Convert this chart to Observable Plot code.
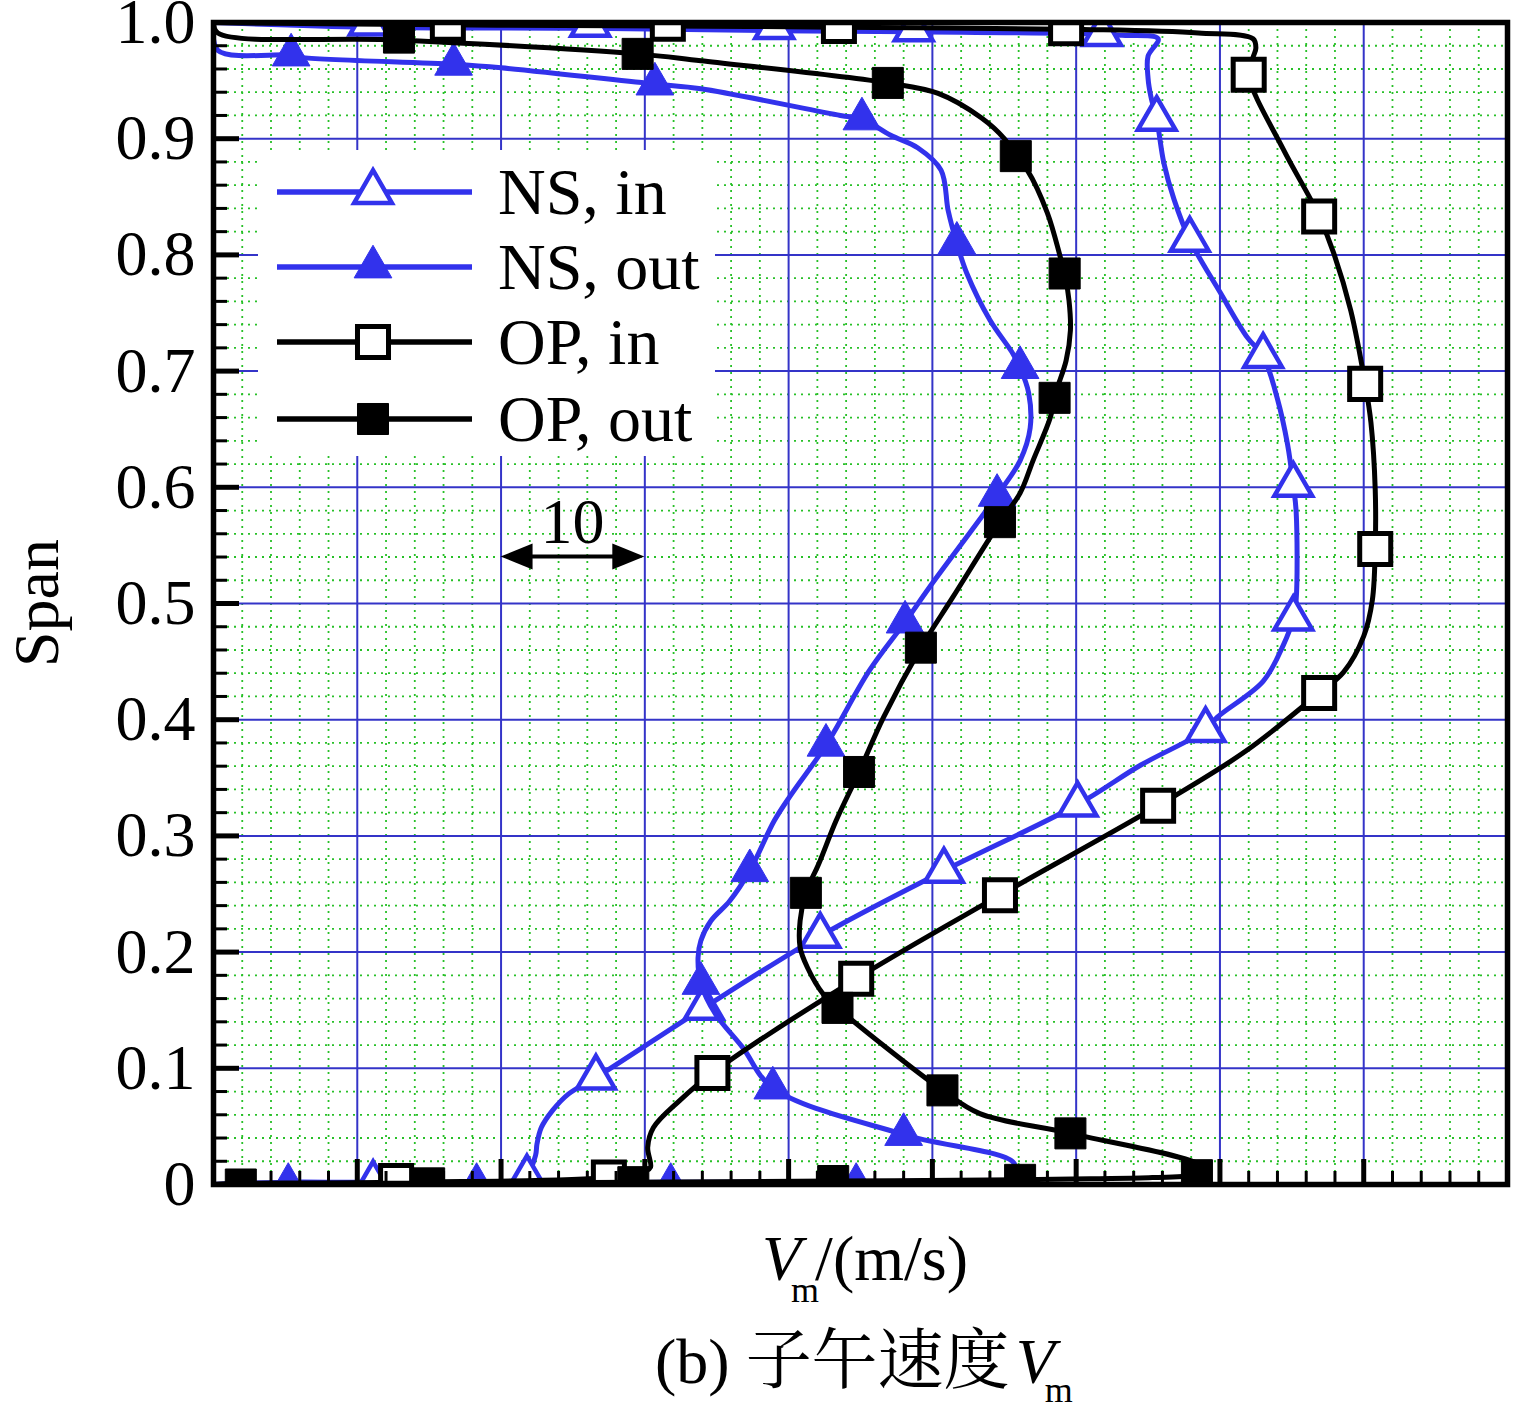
<!DOCTYPE html>
<html>
<head>
<meta charset="utf-8">
<script src="https://cdn.jsdelivr.net/npm/d3@7"></script>
<script src="https://cdn.jsdelivr.net/npm/@observablehq/plot@0.6"></script>
<style>
  html, body { margin: 0; padding: 0; background: #fff; }
  #chart svg { display: block; }
</style>
</head>
<body>
<div id="chart"></div>
<script>
// ---------------- data (V_m in m/s, relative scale; span 0..1) ----------------
const yTicks = [0, 0.1, 0.2, 0.3, 0.4, 0.5, 0.6, 0.7, 0.8, 0.9, 1.0];
const xMajorTicks = [0, 10, 20, 30, 40, 50, 60, 70, 80, 90];
const seriesNames = ["NS, in", "NS, out", "OP, in", "OP, out"];

// NS, in  (line)
const nsInV    = [0, 5.4, 10.1, 11.1, 11.9, 21.2, 21.8, 22.4, 22.5, 22.8, 23.6, 24.7, 26.6, 34.1, 42.2, 50.8, 60.1, 64.5, 69.0, 69.8, 73.0, 74.4, 75.1, 75.3, 75.3, 75.1, 74.7, 74.0, 73.0, 71.9, 70.0, 67.9, 66.8, 66.1, 65.6, 65.2, 65.0, 65.0, 65.7, 63.2, 61.8, 48.7, 39.0, 26.2, 10.8, 0];
const nsInSpan = [0, 0.002, 0.002, 0.003, 0.003, 0.003, 0.008, 0.025, 0.035, 0.049, 0.064, 0.078, 0.092, 0.152, 0.214, 0.270, 0.327, 0.361, 0.391, 0.402, 0.433, 0.464, 0.487, 0.503, 0.579, 0.602, 0.637, 0.676, 0.713, 0.729, 0.768, 0.813, 0.848, 0.879, 0.917, 0.936, 0.952, 0.971, 0.986, 0.989, 0.990, 0.992, 0.993, 0.995, 0.996, 1.0];
// NS, in  (markers)
const nsInMarkV    = [11.1, 21.8, 26.6, 34.1, 42.2, 50.8, 60.1, 69.0, 75.1, 75.1, 73.0, 67.9, 65.6, 61.8, 48.7, 39.0, 26.2, 10.8];
const nsInMarkSpan = [0.001, 0.006, 0.092, 0.152, 0.214, 0.270, 0.327, 0.391, 0.487, 0.602, 0.713, 0.813, 0.917, 0.990, 0.994, 0.996, 0.998, 0.999];

// NS, out (line)
const nsOutV    = [0, 5.2, 18.3, 31.8, 44.7, 50.4, 55.3, 55.7, 48.0, 38.9, 36.8, 34.9, 33.9, 33.7, 33.9, 34.6, 35.9, 37.3, 39.0, 40.2, 42.6, 45.6, 48.1, 49.8, 54.5, 56.1, 56.8, 56.7, 56.1, 55.6, 54.0, 52.4, 51.7, 51.1, 50.6, 49.0, 47.1, 45.1, 43.6, 33.9, 30.7, 20.0, 16.7, 6.1, 5.4, 0.3, 0];
const nsOutSpan = [0, 0.001, 0.001, 0.002, 0.002, 0.003, 0.004, 0.018, 0.043, 0.083, 0.118, 0.147, 0.173, 0.195, 0.210, 0.227, 0.244, 0.270, 0.313, 0.336, 0.378, 0.442, 0.484, 0.514, 0.593, 0.623, 0.651, 0.681, 0.703, 0.715, 0.744, 0.784, 0.810, 0.838, 0.873, 0.892, 0.903, 0.917, 0.920, 0.943, 0.947, 0.961, 0.964, 0.970, 0.972, 0.976, 1.0];
// NS, out (markers)
const nsOutMarkV    = [5.2, 18.3, 31.8, 44.7, 48.0, 38.9, 33.9, 37.3, 42.6, 48.1, 54.5, 56.1, 51.7, 45.1, 30.7, 16.7, 5.4];
const nsOutMarkSpan = [0, 0, 0, 0, 0.043, 0.083, 0.173, 0.270, 0.378, 0.484, 0.593, 0.703, 0.810, 0.917, 0.947, 0.964, 0.972];

// OP, in  (line)
const opInV    = [0, 12.7, 27.5, 30.1, 30.4, 30.2, 30.6, 32.4, 34.7, 44.7, 54.7, 65.7, 71.8, 76.9, 78.6, 80.0, 80.6, 80.8, 80.8, 80.5, 80.1, 79.1, 77.9, 76.9, 76.3, 74.4, 72.0, 72.3, 72.5, 72.3, 68.5, 60.5, 43.5, 31.6, 16.3, 0];
const opInSpan = [0, 0.002, 0.006, 0.012, 0.015, 0.032, 0.049, 0.072, 0.096, 0.177, 0.249, 0.326, 0.373, 0.423, 0.441, 0.472, 0.503, 0.547, 0.598, 0.656, 0.689, 0.752, 0.802, 0.833, 0.848, 0.891, 0.955, 0.970, 0.978, 0.986, 0.991, 0.994, 0.996, 0.997, 0.998, 1.0];
// OP, in  (markers)
const opInMarkV    = [12.7, 27.5, 34.7, 44.7, 54.7, 65.7, 76.9, 80.8, 80.1, 76.9, 72.0, 59.3, 43.5, 31.6, 16.3];
const opInMarkSpan = [0.003, 0.006, 0.096, 0.177, 0.249, 0.326, 0.423, 0.547, 0.689, 0.833, 0.955, 0.995, 0.997, 0.999, 0.999];

// OP, out (line)
const opOutV    = [0, 1.9, 15.0, 29.2, 43.1, 56.1, 61.0, 65.3, 68.4, 68.8, 59.6, 53.3, 50.7, 43.4, 42.4, 41.3, 40.8, 40.8, 41.2, 42.1, 43.3, 44.9, 46.6, 49.2, 51.4, 54.7, 56.1, 57.0, 58.2, 58.5, 58.7, 59.3, 59.6, 59.5, 59.2, 58.9, 58.0, 56.6, 55.8, 55.0, 53.4, 50.4, 46.9, 33.9, 29.5, 12.9, 0.3, 0];
const opOutSpan = [0, 0.001, 0.001, 0.002, 0.003, 0.004, 0.005, 0.006, 0.009, 0.015, 0.044, 0.061, 0.081, 0.152, 0.164, 0.187, 0.204, 0.227, 0.251, 0.276, 0.313, 0.355, 0.402, 0.462, 0.505, 0.570, 0.595, 0.623, 0.660, 0.677, 0.686, 0.709, 0.735, 0.761, 0.784, 0.798, 0.836, 0.873, 0.885, 0.900, 0.918, 0.939, 0.948, 0.967, 0.973, 0.985, 0.991, 1.0];
// OP, out (markers)
const opOutMarkV    = [1.9, 15.0, 29.2, 43.1, 56.1, 68.4, 59.6, 50.7, 43.4, 41.2, 44.9, 49.2, 54.7, 58.5, 59.2, 55.8, 46.9, 29.5, 12.9];
const opOutMarkSpan = [0, 0.001, 0.002, 0.003, 0.004, 0.008, 0.044, 0.081, 0.152, 0.251, 0.355, 0.462, 0.570, 0.677, 0.784, 0.885, 0.948, 0.973, 0.987];

// scale bar annotation ("10" m/s)
const scaleBarFrom = 20, scaleBarTo = 30, scaleBarSpan = 0.54, scaleBarLabel = "10";

// ---------------- layout / style ----------------
const W = 1524, H = 1405;
const mL = 213, mR = 17, mT = 22, mB = 221;
const plotW = W - mL - mR, plotH = H - mT - mB;
const BLUE = "#3232ec";
const GRID_BLUE = "#3434c8";
const GREEN = "#28c028";
const SERIF = "'Liberation Serif', 'Times New Roman', serif";

const rows = (v, s) => v.map((d, i) => ({v: d, span: s[i]}));
const nsIn = rows(nsInV, nsInSpan), nsInM = rows(nsInMarkV, nsInMarkSpan);
const nsOut = rows(nsOutV, nsOutSpan), nsOutM = rows(nsOutMarkV, nsOutMarkSpan);
const opIn = rows(opInV, opInSpan), opInM = rows(opInMarkV, opInMarkSpan);
const opOut = rows(opOutV, opOutSpan), opOutM = rows(opOutMarkV, opOutMarkSpan);

const xMinor = d3.range(0, 91, 2).filter(d => d % 10 !== 0);
const yMinor = d3.range(0, 51, 1).map(d => +(d * 0.02).toFixed(2)).filter(d => Math.round(d * 100) % 10 !== 0);
const xMajorGrid = xMajorTicks.filter(d => d > 0 && d < 90);
const yMajorGrid = yTicks.filter(d => d > 0 && d < 1);

const lineOpts = (color) => ({x: "v", y: "span", stroke: color, strokeWidth: 5, curve: "catmull-rom", clip: true, strokeLinejoin: "round"});
const TRI_R = 14, SQ_R = 17.5;

const plot = Plot.plot({
  width: W, height: H,
  marginLeft: mL, marginRight: mR, marginTop: mT, marginBottom: mB,
  style: {background: "white", fontFamily: SERIF, fontSize: "64px", color: "black", overflow: "visible"},
  x: {domain: [0, 90], axis: null},
  y: {domain: [0, 1], ticks: yTicks, tickFormat: d => d === 0 ? "0" : d.toFixed(1), tickSize: 0, tickPadding: 18, label: null},
  marks: [
    Plot.ruleX(xMinor, {stroke: GREEN, strokeWidth: 1.8, strokeDasharray: "2,5"}),
    Plot.ruleY(yMinor, {stroke: GREEN, strokeWidth: 1.8, strokeDasharray: "2,5"}),
    Plot.ruleX(xMajorGrid, {stroke: GRID_BLUE, strokeWidth: 2}),
    Plot.ruleY(yMajorGrid, {stroke: GRID_BLUE, strokeWidth: 2}),

    Plot.line(nsIn, lineOpts(BLUE)),
    Plot.dot(nsInM, {x: "v", y: "span", symbol: "triangle", r: TRI_R, fill: "white", stroke: BLUE, strokeWidth: 4.5, clip: true}),
    Plot.line(nsOut, lineOpts(BLUE)),
    Plot.dot(nsOutM, {x: "v", y: "span", symbol: "triangle", r: TRI_R, fill: BLUE, stroke: BLUE, strokeWidth: 1, clip: true}),
    Plot.line(opIn, lineOpts("black")),
    Plot.dot(opInM, {x: "v", y: "span", symbol: "square", r: SQ_R, fill: "white", stroke: "black", strokeWidth: 5, clip: true}),
    Plot.line(opOut, lineOpts("black")),
    Plot.dot(opOutM, {x: "v", y: "span", symbol: "square", r: SQ_R, fill: "black", stroke: "black", strokeWidth: 1, clip: true}),

    Plot.tickX(xMinor, {x: d => d, insetTop: plotH - 13, stroke: "black", strokeWidth: 3}),
    Plot.tickX(xMajorTicks, {x: d => d, insetTop: plotH - 25, stroke: "black", strokeWidth: 5}),
    Plot.tickY(yMinor, {y: d => d, insetRight: plotW - 14, stroke: "black", strokeWidth: 3}),
    Plot.tickY(yTicks, {y: d => d, insetRight: plotW - 26, stroke: "black", strokeWidth: 5}),
    Plot.frame({stroke: "black", strokeWidth: 5.5})
  ]
});

document.getElementById("chart").appendChild(plot);

// ---------------- annotations: legend, scale bar, labels ----------------
const svg = d3.select(plot.tagName.toLowerCase() === "svg" ? plot : plot.querySelector("svg"));
const xs = d3.scaleLinear([0, 90], [mL, W - mR]);
const ys = d3.scaleLinear([0, 1], [H - mB, mT]);

// legend
const lg = svg.append("g").attr("font-family", SERIF).attr("text-anchor", "start");
lg.append("rect").attr("x", 258).attr("y", 150).attr("width", 457).attr("height", 306).attr("fill", "white");
const legendStyles = [
  {color: BLUE, sym: d3.symbolTriangle, r: TRI_R, fill: "white", sw: 4.5},
  {color: BLUE, sym: d3.symbolTriangle, r: TRI_R, fill: BLUE, sw: 1},
  {color: "black", sym: d3.symbolSquare, r: SQ_R, fill: "white", sw: 5},
  {color: "black", sym: d3.symbolSquare, r: SQ_R, fill: "black", sw: 1}
];
const legendRowY = [192, 267, 342, 419];
seriesNames.forEach((name, i) => {
  const st = legendStyles[i], yy = legendRowY[i];
  lg.append("line").attr("x1", 277).attr("x2", 472).attr("y1", yy).attr("y2", yy)
    .attr("stroke", st.color).attr("stroke-width", 5.5);
  lg.append("path").attr("d", d3.symbol(st.sym, Math.PI * st.r * st.r)())
    .attr("transform", `translate(373,${yy})`)
    .attr("fill", st.fill).attr("stroke", st.color).attr("stroke-width", st.sw);
  lg.append("text").attr("x", 498).attr("y", yy + 22).attr("font-size", 66).attr("fill", "black")
    .attr("text-anchor", "start").text(name);
});

// scale bar
const sx1 = xs(scaleBarFrom), sx2 = xs(scaleBarTo), sy = ys(scaleBarSpan);
const sb = svg.append("g");
sb.append("line").attr("x1", sx1 + 20).attr("x2", sx2 - 20).attr("y1", sy).attr("y2", sy).attr("stroke", "black").attr("stroke-width", 4);
sb.append("path").attr("d", `M${sx1},${sy}L${sx1 + 32},${sy - 13}L${sx1 + 32},${sy + 13}Z`).attr("fill", "black");
sb.append("path").attr("d", `M${sx2},${sy}L${sx2 - 32},${sy - 13}L${sx2 - 32},${sy + 13}Z`).attr("fill", "black");
sb.append("text").attr("x", (sx1 + sx2) / 2).attr("y", sy - 14).attr("text-anchor", "middle")
  .attr("font-family", SERIF).attr("font-size", 64).attr("fill", "black").text(scaleBarLabel);

// y-axis title
svg.append("text").attr("transform", `translate(58,${ys(0.5)}) rotate(-90)`).attr("text-anchor", "middle")
  .attr("font-family", SERIF).attr("font-size", 64).attr("fill", "black").text("Span");

// x-axis title: V_m/(m/s)
const xt = svg.append("text").attr("x", 762).attr("y", 1280).attr("text-anchor", "start")
  .attr("font-family", SERIF).attr("font-size", 64).attr("fill", "black");
xt.append("tspan").attr("font-style", "italic").text("V");
xt.append("tspan").attr("font-size", 36).attr("dx", -10).attr("dy", 22).text("m");
xt.append("tspan").attr("dx", -4).attr("dy", -22).text("/(m/s)");

// caption: (b) 子午速度V_m
const cap = svg.append("text").attr("x", 655).attr("y", 1383).attr("text-anchor", "start")
  .attr("font-family", SERIF).attr("font-size", 64).attr("fill", "black");
cap.append("tspan").text("(b) ");
cap.append("tspan").attr("font-family", "'Noto Serif CJK SC', 'Noto Sans CJK SC', sans-serif").attr("font-size", 66).text("子午速度");
cap.append("tspan").attr("font-style", "italic").attr("dx", 6).text("V");
cap.append("tspan").attr("font-size", 36).attr("dx", -10).attr("dy", 19).text("m");
</script>
</body>
</html>
